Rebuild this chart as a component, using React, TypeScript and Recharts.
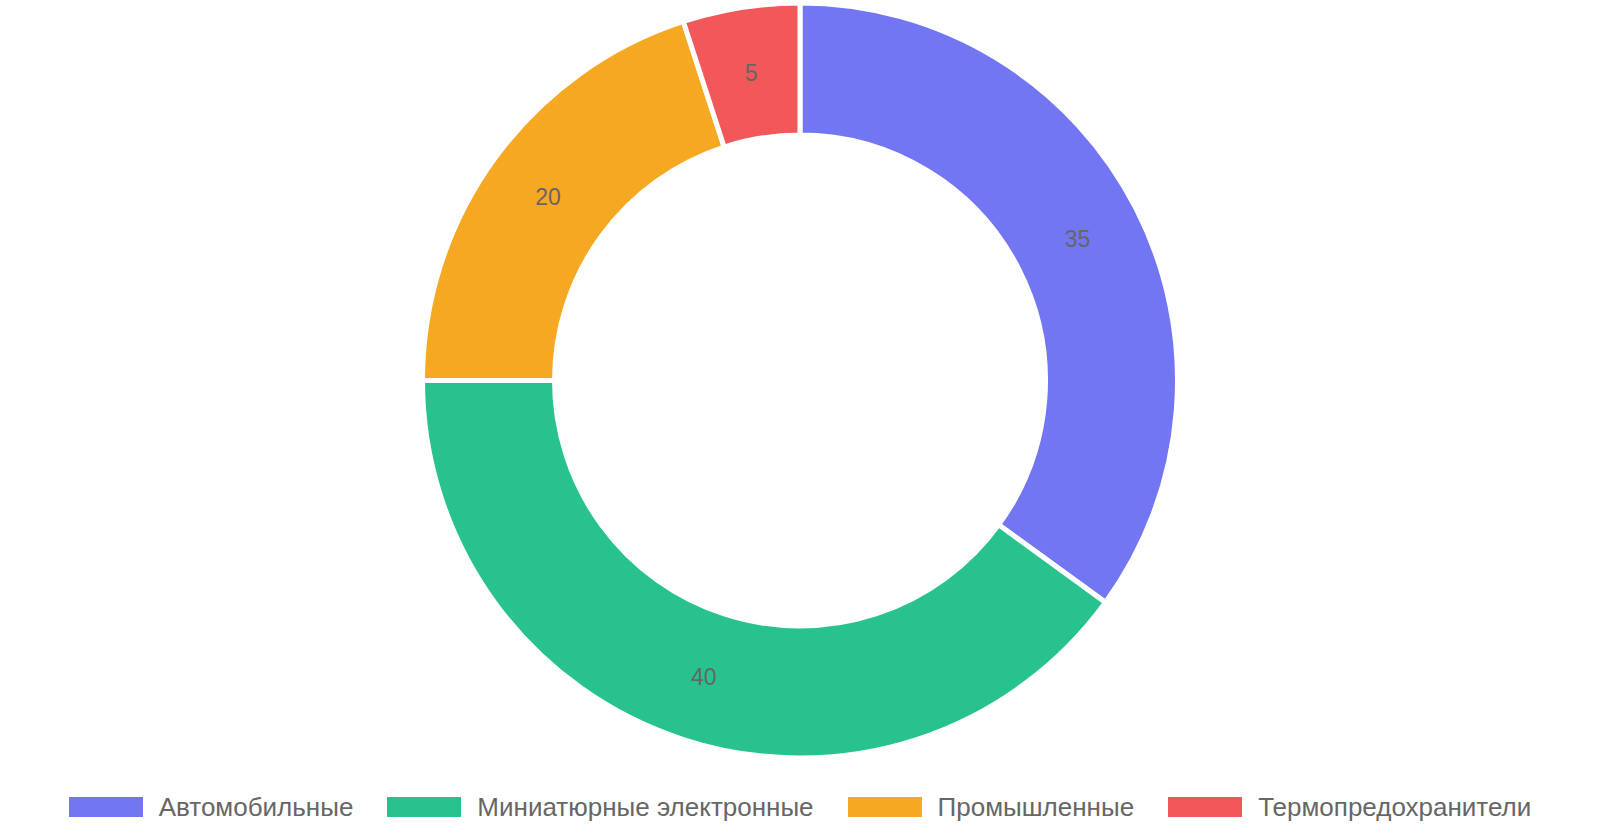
import { PieChart, Pie, Cell, Legend } from 'recharts';

const categories = ['Автомобильные', 'Миниатюрные электронные', 'Промышленные', 'Термопредохранители'];
const shares = [35, 40, 20, 5];
const colors = ['#7376f3', '#28c28f', '#f6a823', '#f25859'];

const data = categories.map((name, i) => ({ name, value: shares[i] }));

const RAD = Math.PI / 180;

function SliceLabel(props: any) {
  const { cx, cy, midAngle, innerRadius, outerRadius, value } = props;
  const r = (innerRadius + outerRadius) / 2;
  const x = cx + r * Math.cos(-midAngle * RAD);
  const y = cy + r * Math.sin(-midAngle * RAD);
  return (
    <text
      x={x}
      y={y}
      fill="#666666"
      fontSize={23}
      fontFamily="'Liberation Sans', Arial, sans-serif"
      textAnchor="middle"
      dominantBaseline="central"
    >
      {value}
    </text>
  );
}

function LegendRow() {
  return (
    <div
      style={{
        display: 'flex',
        justifyContent: 'center',
        alignItems: 'center',
        gap: 34,
        fontFamily: "'Liberation Sans', Arial, sans-serif",
        fontSize: 26,
        color: '#666666',
      }}
    >
      {categories.map((c, i) => (
        <div key={c} style={{ display: 'flex', alignItems: 'center', gap: 16 }}>
          <span style={{ display: 'inline-block', width: 74, height: 20, background: colors[i] }} />
          <span style={{ lineHeight: '30px' }}>{c}</span>
        </div>
      ))}
    </div>
  );
}

export default function App() {
  return (
    <div style={{ position: 'absolute', left: 0, top: 0, width: 1600, height: 840, background: '#fff' }}>
      <PieChart width={1600} height={840} margin={{ top: 0, right: 0, bottom: 0, left: 0 }}>
        <Pie
          data={data}
          dataKey="value"
          nameKey="name"
          cx={800}
          cy={380.5}
          innerRadius={245.5}
          outerRadius={377.5}
          startAngle={90}
          endAngle={-270}
          stroke="#ffffff"
          strokeWidth={5}
          label={<SliceLabel />}
          labelLine={false}
          isAnimationActive={false}
        >
          {data.map((d, i) => (
            <Cell key={d.name} fill={colors[i]} />
          ))}
        </Pie>
        <Legend
          content={() => <LegendRow />}
          wrapperStyle={{ position: 'absolute', left: 0, top: 792, width: 1600 }}
        />
      </PieChart>
    </div>
  );
}
